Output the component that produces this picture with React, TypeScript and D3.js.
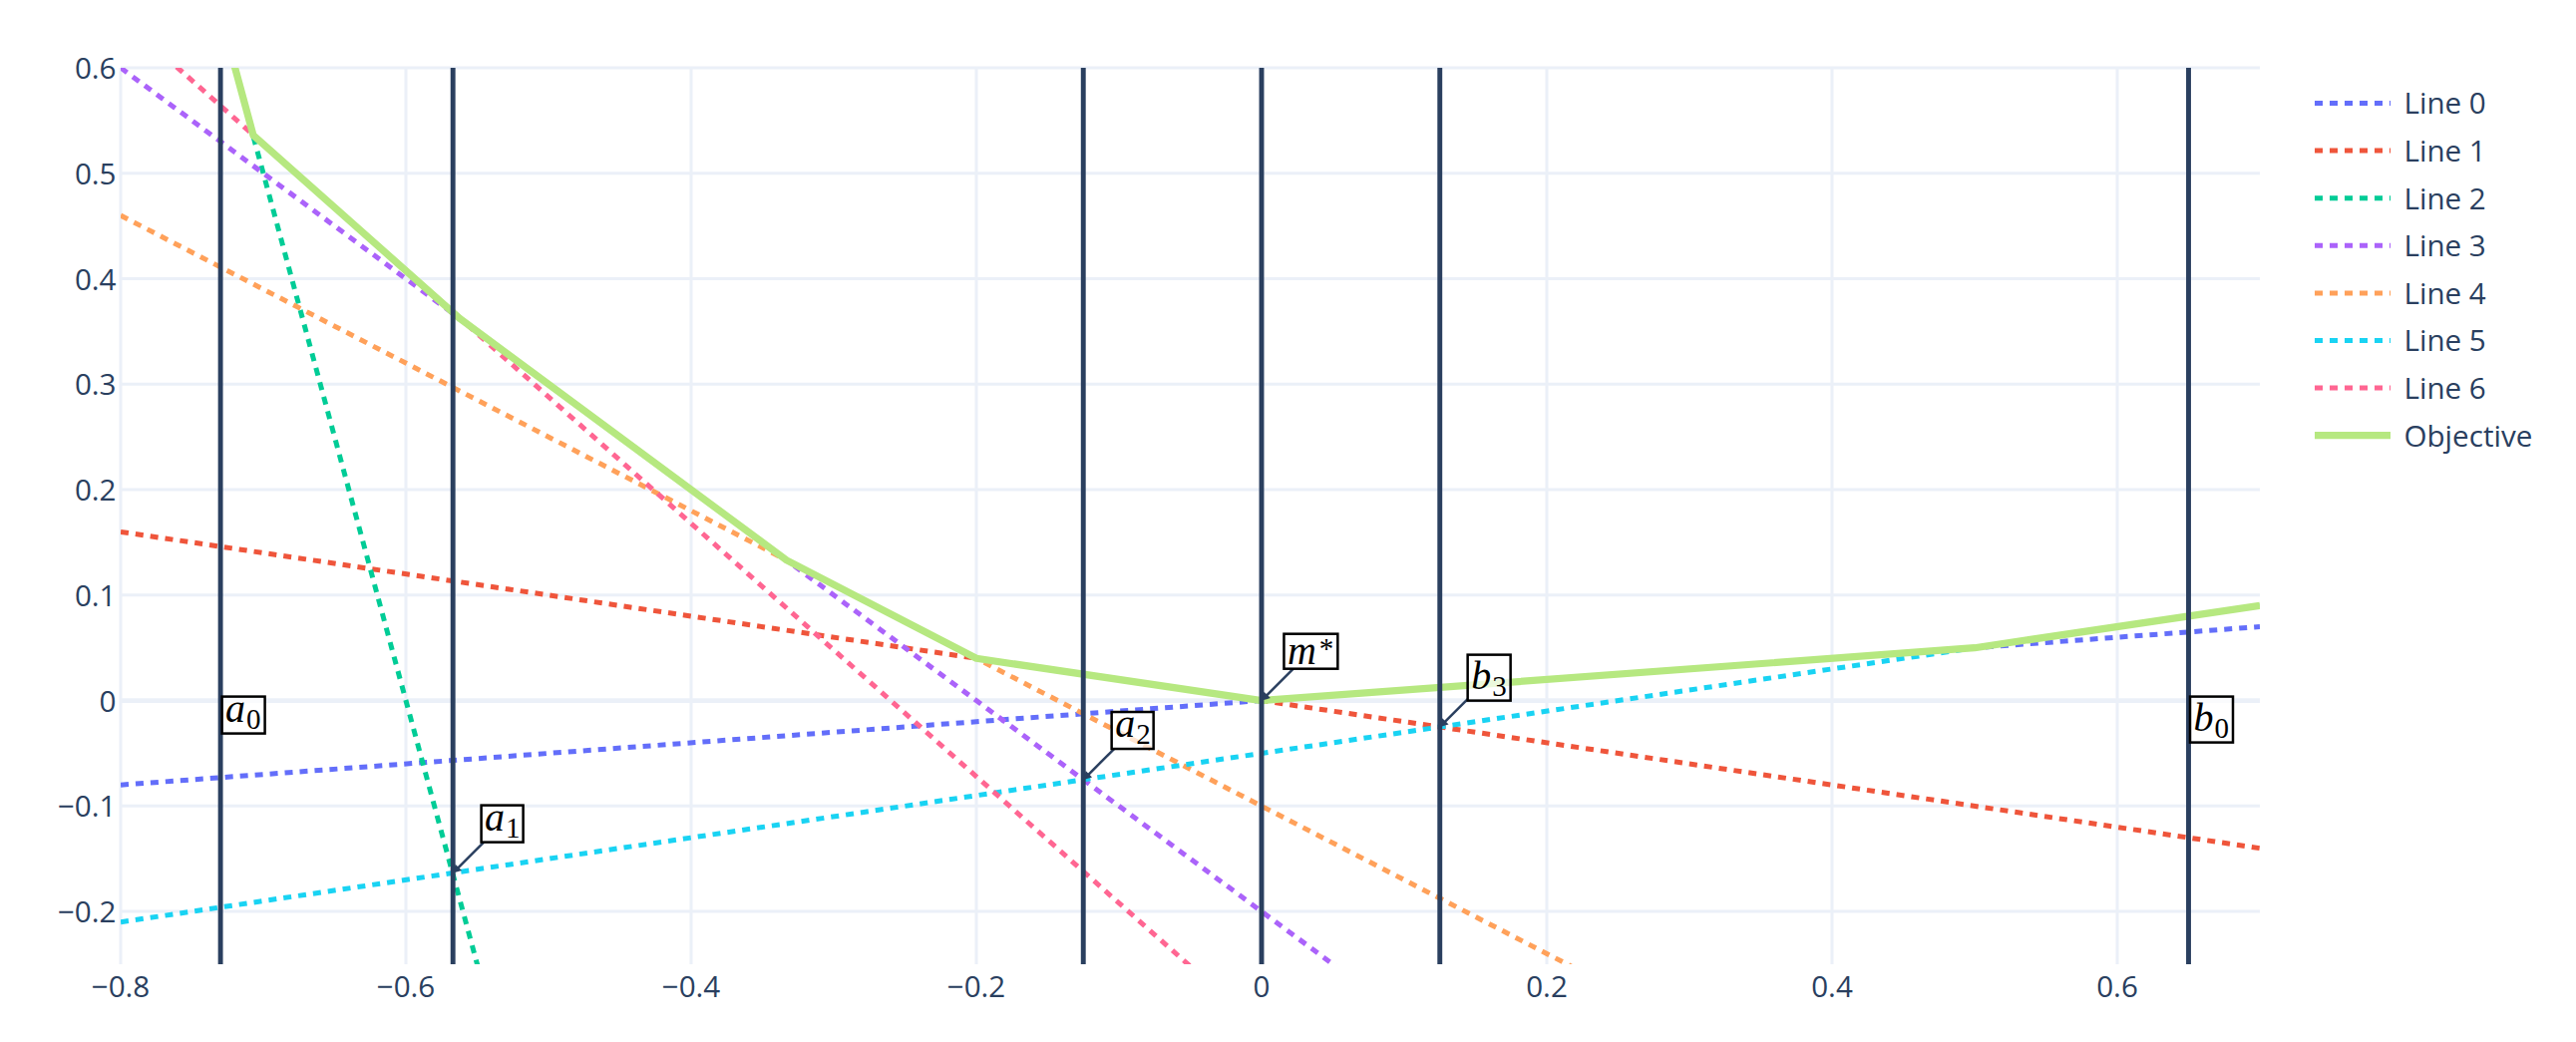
import React, { useEffect, useRef } from "react";
import * as d3 from "d3";

// ---- data ----
const xDomain = [-0.8, 0.7];
const yDomain = [-0.25, 0.6];

const xTicks = [-0.8, -0.6, -0.4, -0.2, 0, 0.2, 0.4, 0.6];
const xTickLabels = ["\u22120.8", "\u22120.6", "\u22120.4", "\u22120.2", "0", "0.2", "0.4", "0.6"];
const yTicks = [-0.2, -0.1, 0, 0.1, 0.2, 0.3, 0.4, 0.5, 0.6];
const yTickLabels = ["\u22120.2", "\u22120.1", "0", "0.1", "0.2", "0.3", "0.4", "0.5", "0.6"];

const lineNames = ["Line 0", "Line 1", "Line 2", "Line 3", "Line 4", "Line 5", "Line 6"];
const lineX = [-0.8, 0.7];
const lineStartY = [-0.08, 0.16, 1.0, 0.6, 0.46, -0.21, 0.648];
const lineEndY = [0.07, -0.14, -6.5, -0.9, -0.59, 0.09, -1.152];

const objectiveX = [-0.8, -0.707, -0.562, -0.333, -0.2, 0, 0.5, 0.7];
const objectiveY = [1.0, 0.536, 0.362, 0.133, 0.04, 0, 0.05, 0.09];

const markBase = ["a", "a", "a", "m", "b", "b"];
const markScript = ["0", "1", "2", "*", "3", "0"];
const markX = [-0.73, -0.567, -0.125, 0, 0.125, 0.65];
const markY = [0, -0.1635, -0.075, 0, -0.025, 0];
const markArrow = [false, true, true, true, true, false];

// ---- styling ----
const W = 2583;
const H = 1045;
const margin = { top: 68, right: 317, bottom: 78, left: 121 };
const colors = ["#636efa", "#EF553B", "#00cc96", "#ab63fa", "#FFA15A", "#19d3f3", "#FF6692"];
const objColor = "#B6E880";
const INK = "#2a3f5f";
const GRID = "#EBF0F8";
const FONT = '"Open Sans", verdana, arial, sans-serif';
const FS = 29.6;
const MATH = '"Liberation Serif", "Times New Roman", serif';

export default function App() {
  const ref = useRef<SVGSVGElement>(null);

  useEffect(() => {
    const svg = d3.select(ref.current).attr("width", W).attr("height", H);
    svg.selectAll("*").remove();

    const x = d3.scaleLinear().domain(xDomain).range([margin.left, W - margin.right]);
    const y = d3.scaleLinear().domain(yDomain).range([H - margin.bottom, margin.top]);
    const top = margin.top;
    const bottom = H - margin.bottom;
    const left = margin.left;
    const right = W - margin.right;

    svg.append("rect").attr("width", W).attr("height", H).attr("fill", "#fff");

    svg
      .append("clipPath")
      .attr("id", "plotclip")
      .append("rect")
      .attr("x", left)
      .attr("y", top)
      .attr("width", right - left)
      .attr("height", bottom - top);

    // grid
    const grid = svg.append("g");
    grid
      .selectAll(".gx")
      .data(xTicks.filter((d) => d !== 0))
      .join("line")
      .attr("x1", (d) => x(d))
      .attr("x2", (d) => x(d))
      .attr("y1", top)
      .attr("y2", bottom)
      .attr("stroke", GRID)
      .attr("stroke-width", 3);
    grid
      .selectAll(".gy")
      .data(yTicks)
      .join("line")
      .attr("x1", left)
      .attr("x2", right)
      .attr("y1", (d) => y(d))
      .attr("y2", (d) => y(d))
      .attr("stroke", GRID)
      .attr("stroke-width", (d) => (d === 0 ? 4.6 : 3));
    grid
      .append("line")
      .attr("x1", x(0))
      .attr("x2", x(0))
      .attr("y1", top)
      .attr("y2", bottom)
      .attr("stroke", GRID)
      .attr("stroke-width", 4.6);

    // traces
    const traces = svg.append("g").attr("clip-path", "url(#plotclip)");
    const line = d3
      .line<[number, number]>()
      .x((d) => x(d[0]))
      .y((d) => y(d[1]));

    lineNames.forEach((_, i) => {
      traces
        .append("path")
        .attr("d", line([[lineX[0], lineStartY[i]], [lineX[1], lineEndY[i]]]))
        .attr("fill", "none")
        .attr("stroke", colors[i])
        .attr("stroke-width", 5)
        .attr("stroke-dasharray", "8,7");
    });

    traces
      .append("path")
      .attr("d", line(objectiveX.map((v, i) => [v, objectiveY[i]] as [number, number])))
      .attr("fill", "none")
      .attr("stroke", objColor)
      .attr("stroke-width", 7.2)
      .attr("stroke-linejoin", "round");

    // vertical marker lines
    svg
      .append("g")
      .selectAll("line")
      .data(markX)
      .join("line")
      .attr("x1", (d) => x(d))
      .attr("x2", (d) => x(d))
      .attr("y1", top)
      .attr("y2", bottom)
      .attr("stroke", INK)
      .attr("stroke-width", 4.9);

    // tick labels
    svg
      .append("g")
      .selectAll("text")
      .data(xTicks)
      .join("text")
      .attr("x", (d) => x(d))
      .attr("y", bottom + 33)
      .attr("text-anchor", "middle")
      .attr("font-family", FONT)
      .attr("font-size", FS)
      .attr("fill", INK)
      .text((d, i) => xTickLabels[i]);

    svg
      .append("g")
      .selectAll("text")
      .data(yTicks)
      .join("text")
      .attr("x", left - 4.5)
      .attr("y", (d) => y(d) + 11)
      .attr("text-anchor", "end")
      .attr("font-family", FONT)
      .attr("font-size", FS)
      .attr("fill", INK)
      .text((d, i) => yTickLabels[i]);

    // legend
    const lg = svg.append("g");
    const legY = (i: number) => 103.5 + 47.6 * i;
    lineNames.forEach((name, i) => {
      lg.append("line")
        .attr("x1", 2321)
        .attr("x2", 2397)
        .attr("y1", legY(i))
        .attr("y2", legY(i))
        .attr("stroke", colors[i])
        .attr("stroke-width", 5)
        .attr("stroke-dasharray", "8,7");
      lg.append("text")
        .attr("x", 2410.5)
        .attr("y", legY(i) + 10.8)
        .attr("font-family", FONT)
        .attr("font-size", FS)
        .attr("fill", INK)
        .text(name);
    });
    lg.append("line")
      .attr("x1", 2321)
      .attr("x2", 2397)
      .attr("y1", legY(7))
      .attr("y2", legY(7))
      .attr("stroke", objColor)
      .attr("stroke-width", 7.2);
    lg.append("text")
      .attr("x", 2410.5)
      .attr("y", legY(7) + 10.8)
      .attr("font-family", FONT)
      .attr("font-size", FS)
      .attr("fill", INK)
      .text("Objective");

    // annotations (math-like labels in boxes)
    const ctx = document.createElement("canvas").getContext("2d")!;
    const baseSize = 40;
    const scriptSize = 29;
    const baseFont = `italic ${baseSize}px ${MATH}`;
    const scriptFont = `${scriptSize}px ${MATH}`;
    const measure = (t: string, f: string) => {
      ctx.font = f;
      const m = ctx.measureText(t);
      return {
        asc: m.actualBoundingBoxAscent,
        desc: m.actualBoundingBoxDescent,
        l: m.actualBoundingBoxLeft,
        r: m.actualBoundingBoxRight,
        w: m.width,
      };
    };
    const padX = 4.5;
    const padY = 5;
    const ann = svg.append("g");

    markBase.forEach((base, i) => {
      const sup = markScript[i] === "*";
      const shift = sup ? -6 : 7;
      const gap = sup ? 3 : 1;
      const b = measure(base, baseFont);
      const s = measure(markScript[i], scriptFont);
      const sx = b.w + gap;
      const gl = Math.min(-b.l, sx - s.l);
      const gr = Math.max(b.r, sx + s.r);
      const ga = Math.max(b.asc, s.asc - shift);
      const gd = Math.max(b.desc, s.desc + shift);
      const bw = gr - gl + 2 * padX;
      const bh = ga + gd + 2 * padY;

      const px = x(markX[i]);
      const py = y(markY[i]);
      let bx: number;
      let by: number;
      if (markArrow[i]) {
        const cx = px + 49.4;
        const cy = py - 49.4;
        bx = cx - bw / 2;
        by = cy - bh / 2;
        const dx = px - cx;
        const dy = py - cy;
        const t = Math.min(bw / 2 / Math.abs(dx), bh / 2 / Math.abs(dy));
        const sx0 = cx + dx * t;
        const sy0 = cy + dy * t;
        const len = Math.hypot(dx, dy);
        const ux = dx / len;
        const uy = dy / len;
        const head = 8;
        ann
          .append("line")
          .attr("x1", sx0)
          .attr("y1", sy0)
          .attr("x2", px - ux * head * 0.6)
          .attr("y2", py - uy * head * 0.6)
          .attr("stroke", INK)
          .attr("stroke-width", 2.5);
        const nx = -uy;
        const ny = ux;
        ann
          .append("path")
          .attr(
            "d",
            `M${px},${py}L${px - ux * head + nx * 4.5},${py - uy * head + ny * 4.5}L${
              px - ux * head - nx * 4.5
            },${py - uy * head - ny * 4.5}Z`
          )
          .attr("fill", INK);
      } else {
        bx = px + 1.5;
        by = py - 4;
      }

      ann
        .append("rect")
        .attr("x", bx)
        .attr("y", by)
        .attr("width", bw)
        .attr("height", bh)
        .attr("fill", "#ffffff")
        .attr("fill-opacity", 0.72)
        .attr("stroke", "#000")
        .attr("stroke-width", 2.5);

      const txt = ann
        .append("text")
        .attr("x", bx + padX - gl)
        .attr("y", by + padY + ga)
        .attr("font-family", MATH)
        .attr("fill", "#000");
      txt.append("tspan").attr("font-style", "italic").attr("font-size", baseSize).text(base);
      txt
        .append("tspan")
        .attr("dx", gap)
        .attr("dy", shift)
        .attr("font-size", scriptSize)
        .text(markScript[i]);
    });
  }, []);

  return <svg ref={ref} style={{ position: "absolute", left: 0, top: 0, display: "block" }} />;
}
